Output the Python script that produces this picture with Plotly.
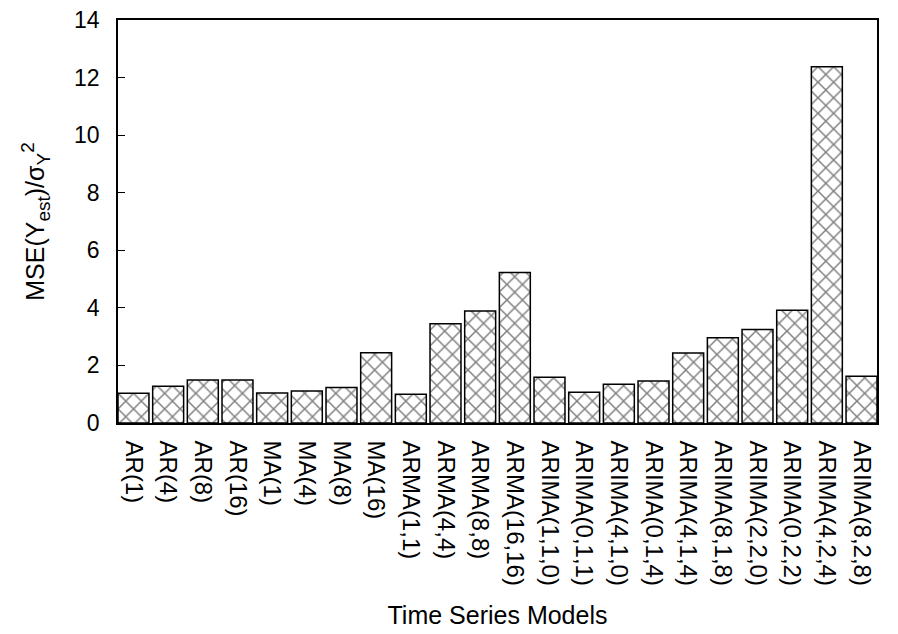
import plotly.graph_objects as go

models = ["AR(1)", "AR(4)", "AR(8)", "AR(16)", "MA(1)", "MA(4)", "MA(8)", "MA(16)",
          "ARMA(1,1)", "ARMA(4,4)", "ARMA(8,8)", "ARMA(16,16)",
          "ARIMA(1,1,0)", "ARIMA(0,1,1)", "ARIMA(4,1,0)", "ARIMA(0,1,4)",
          "ARIMA(4,1,4)", "ARIMA(8,1,8)", "ARIMA(2,2,0)", "ARIMA(0,2,2)",
          "ARIMA(4,2,4)", "ARIMA(8,2,8)"]
mse = [1.03, 1.28, 1.49, 1.49, 1.04, 1.11, 1.23, 2.44,
       1.00, 3.45, 3.89, 5.23,
       1.59, 1.07, 1.35, 1.46,
       2.43, 2.96, 3.25, 3.92,
       12.38, 1.62]
yticks = [0, 2, 4, 6, 8, 10, 12, 14]

FONT = "Liberation Sans, Arial, sans-serif"
gap = 0.107
half = (1 - gap) / 2

fig = go.Figure(go.Bar(
    x=list(range(len(models))), y=mse,
    marker=dict(color="white",
                line=dict(color="black", width=1.5),
                pattern=dict(shape="x", fgcolor="black", bgcolor="white",
                             size=11, solidity=0.25, fillmode="overlay")),
    width=1 - gap,
))

ytitle = ("MSE(Y<sub><span style='font-size:19px'>est</span></sub>)/σ"
          "<sub><span style='font-size:19px'>Y</span></sub>"
          "<sup><span style='font-size:19px'>2</span></sup>")

fig.update_layout(
    width=898, height=634,
    margin=dict(l=118, r=21, t=20, b=211),
    paper_bgcolor="white", plot_bgcolor="white",
    font=dict(family=FONT, color="black"),
    showlegend=False,
    xaxis=dict(
        range=[-half, len(models) - 1 + half], automargin=False,
        tickmode="array", tickvals=list(range(len(models))), ticktext=models,
        tickangle=90, tickfont=dict(size=24, family=FONT),
        ticks="", showline=True, linecolor="black", linewidth=1.5, mirror=True,
        showgrid=False, zeroline=False, ticklabelstandoff=11,
        title=dict(text="Time Series Models", font=dict(size=25, family=FONT), standoff=22),
    ),
    yaxis=dict(
        range=[0, 14], tickmode="array", tickvals=yticks, automargin=False,
        ticktext=[str(v) for v in yticks],
        tickfont=dict(size=23, family=FONT),
        ticks="inside", ticklen=7, tickcolor="black", tickwidth=1.2,
        showline=True, linecolor="black", linewidth=1.5, mirror=True,
        showgrid=False, zeroline=False, ticklabelstandoff=12,
        title=dict(text=ytitle, font=dict(size=25, family=FONT), standoff=22),
    ),
)

fig.write_html("out.html")
